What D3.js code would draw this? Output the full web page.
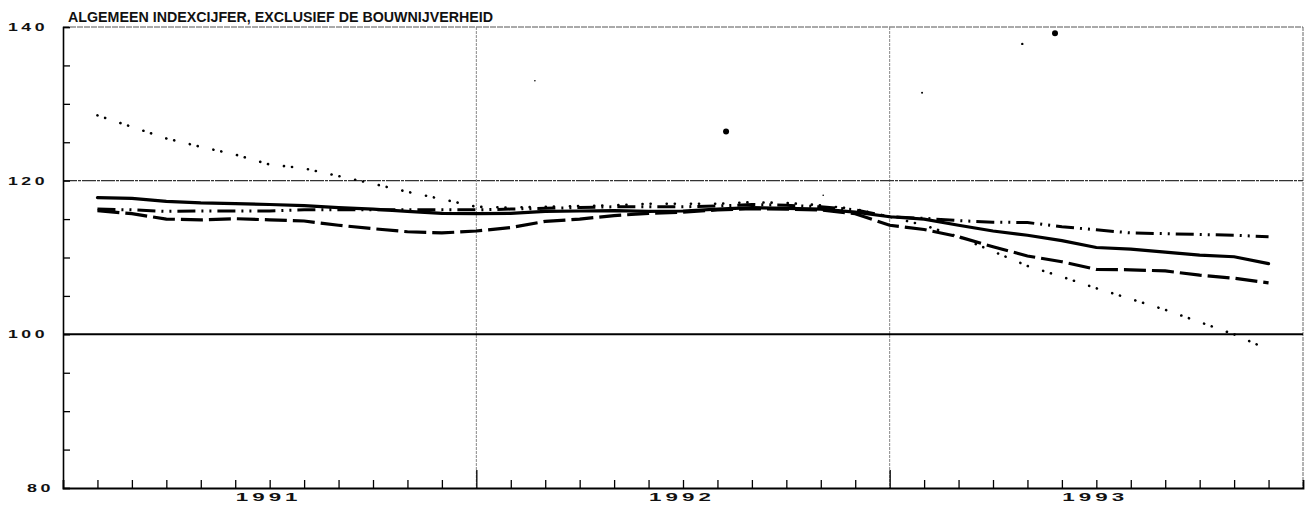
<!DOCTYPE html>
<html>
<head>
<meta charset="utf-8">
<script src="https://cdn.jsdelivr.net/npm/d3@7"></script>
<style>
  body { margin: 0; background: #fff; }
  svg { display: block; }
  text { font-family: "Liberation Sans", Arial, sans-serif; fill: #111; }
</style>
</head>
<body>
<div id="chart"></div>
<script>
// index values, one per month (Feb 1991 .. Dec 1993)
const months = d3.range(1, 36)

const seriesSolid = [117.8, 117.7, 117.3, 117.1, 117.0, 116.9, 116.75, 116.5, 116.3, 116.0, 115.75, 115.7,
  115.75, 116.0, 116.05, 116.1, 116.0, 116.05, 116.3, 116.5, 116.4, 116.3, 115.9,
  115.3, 115.0, 114.2, 113.45, 112.9, 112.2, 111.3, 111.1, 110.7, 110.3, 110.1, 109.2]

const seriesDashed = [116.1, 115.7, 115.0, 114.9, 115.05, 114.9, 114.75, 114.2, 113.75, 113.35, 113.2, 113.45,
  113.9, 114.7, 115.0, 115.45, 115.75, 115.9, 116.2, 116.35, 116.3, 116.2, 115.7,
  114.2, 113.65, 112.7, 111.4, 110.2, 109.45, 108.45, 108.4, 108.25, 107.7, 107.3, 106.7]

const seriesDashDot = [116.3, 116.2, 116.0, 116.05, 116.05, 116.05, 116.2, 116.2, 116.2, 116.2, 116.2, 116.2,
  116.3, 116.4, 116.5, 116.6, 116.6, 116.6, 116.7, 116.9, 116.8, 116.6, 116.2,
  115.3, 115.1, 114.8, 114.6, 114.55, 114.0, 113.6, 113.2, 113.1, 113.0, 112.9, 112.7]

const seriesDotted = [128.5, 127.0, 125.5, 124.4, 123.4, 122.1, 121.6, 120.6, 119.6, 118.55, 117.6, 116.6,
  116.5, 116.6, 116.7, 116.8, 117.0, 117.0, 117.0, 117.2, 117.1, 116.8, 116.3,
  115.3, 114.2, 112.7, 110.8, 108.9, 107.5, 106.0, 104.6, 103.2, 101.6, 100.0, 98.0]

// stray specks on the scan: [month position, value, size]
const specks = [[19.25, 126.4, 3], [28.8, 139.2, 3], [27.85, 137.8, 1.2], [24.94, 131.45, 1], [13.7, 133.0, 0.8], [22.07, 118.1, 0.8]]

const yearLabels = ["1991", "1992", "1993"]
const yTickLabels = [80, 100, 120, 140]
const title = "ALGEMEEN INDEXCIJFER, EXCLUSIEF DE BOUWNIJVERHEID"

const width = 1307,
  height = 509

const x = d3.scaleLinear().domain([0, 36]).range([63, 1303])
const y = d3.scaleLinear().domain([80, 140]).range([488, 27])

const svg = d3.select("#chart")
  .append("svg")
  .attr("width", width)
  .attr("height", height)

// frame and grid
svg.append("line")
  .attr("x1", x(0)).attr("x2", x(36))
  .attr("y1", y(140)).attr("y2", y(140))
  .attr("stroke", "#555").attr("stroke-width", 1).attr("stroke-dasharray", "6,1")

svg.append("line")
  .attr("x1", x(36)).attr("x2", x(36))
  .attr("y1", y(140)).attr("y2", y(80))
  .attr("stroke", "#666").attr("stroke-width", 1).attr("stroke-dasharray", "4,1")

svg.selectAll("vgrid")
  .data([12, 24])
  .join("line")
  .attr("x1", d => x(d)).attr("x2", d => x(d))
  .attr("y1", y(140)).attr("y2", y(80))
  .attr("stroke", "#888").attr("stroke-width", 1).attr("stroke-dasharray", "3,1")

svg.append("line")
  .attr("x1", x(0)).attr("x2", x(36))
  .attr("y1", y(120)).attr("y2", y(120))
  .attr("stroke", "#333").attr("stroke-width", 1.3).attr("stroke-dasharray", "14,1,3,1")

svg.append("line")
  .attr("x1", x(0)).attr("x2", x(36))
  .attr("y1", y(100)).attr("y2", y(100))
  .attr("stroke", "#000").attr("stroke-width", 2)

// axes
const yAxis = d3.axisRight(y)
  .tickValues(d3.range(80, 141, 5))
  .tickSize(7)
  .tickFormat("")
const gy = svg.append("g")
  .attr("transform", `translate(${x(0)},0)`)
  .call(yAxis)
gy.select(".domain").attr("stroke", "#000").attr("stroke-width", 1.6)
gy.selectAll(".tick line").attr("stroke", "#000").attr("stroke-width", 1.3)

const xAxis = d3.axisTop(x)
  .tickValues(d3.range(1, 36))
  .tickSize(8)
  .tickFormat("")
const gx = svg.append("g")
  .attr("transform", `translate(0,${y(80)})`)
  .call(xAxis)
gx.select(".domain").attr("stroke", "#000").attr("stroke-width", 1.8)
gx.selectAll(".tick line")
  .attr("stroke", "#000").attr("stroke-width", 1.3)
  .attr("y2", d => d % 12 === 0 ? -18 : -8)

// axis labels (wide plotter-style digits)
svg.selectAll("ylabels")
  .data(yTickLabels)
  .join("text")
  .attr("x", d => d < 100 ? 27 : 8)
  .attr("y", d => y(d) + 4)
  .attr("textLength", d => d < 100 ? 27 : 40)
  .attr("lengthAdjust", "spacingAndGlyphs")
  .style("font-size", "10px")
  .style("font-weight", "bold")
  .style("letter-spacing", "2px")
  .text(d => d)

svg.selectAll("xlabels")
  .data(yearLabels)
  .join("text")
  .attr("x", (d, i) => x(6 + i * 12) - 34)
  .attr("y", 501)
  .attr("textLength", 66)
  .attr("lengthAdjust", "spacingAndGlyphs")
  .style("font-size", "11px")
  .style("font-weight", "bold")
  .style("letter-spacing", "2px")
  .text(d => d)

svg.append("text")
  .attr("x", 68)
  .attr("y", 22)
  .attr("textLength", 425)
  .attr("lengthAdjust", "spacingAndGlyphs")
  .style("font-size", "14px")
  .style("font-weight", "bold")
  .text(title)

// the four index lines
const line = d3.line()
  .x((d, i) => x(months[i]))
  .y(d => y(d))

const styles = [
  { data: seriesDotted, dash: "0.1,8,0.1,16", w: 2.6, cap: "round" },
  { data: seriesDashDot, dash: "18,6,2,6,2,6", w: 3, cap: "butt" },
  { data: seriesDashed, dash: "22,6", w: 3.2, cap: "butt" },
  { data: seriesSolid, dash: null, w: 3.2, cap: "round" }
]

svg.selectAll("series")
  .data(styles)
  .join("path")
  .attr("d", d => line(d.data))
  .attr("fill", "none")
  .attr("stroke", "#000")
  .attr("stroke-width", d => d.w)
  .attr("stroke-linecap", d => d.cap)
  .attr("stroke-dasharray", d => d.dash)

svg.selectAll("specks")
  .data(specks)
  .join("circle")
  .attr("cx", d => x(d[0]))
  .attr("cy", d => y(d[1]))
  .attr("r", d => d[2])
  .attr("fill", "#000")
</script>
</body>
</html>
